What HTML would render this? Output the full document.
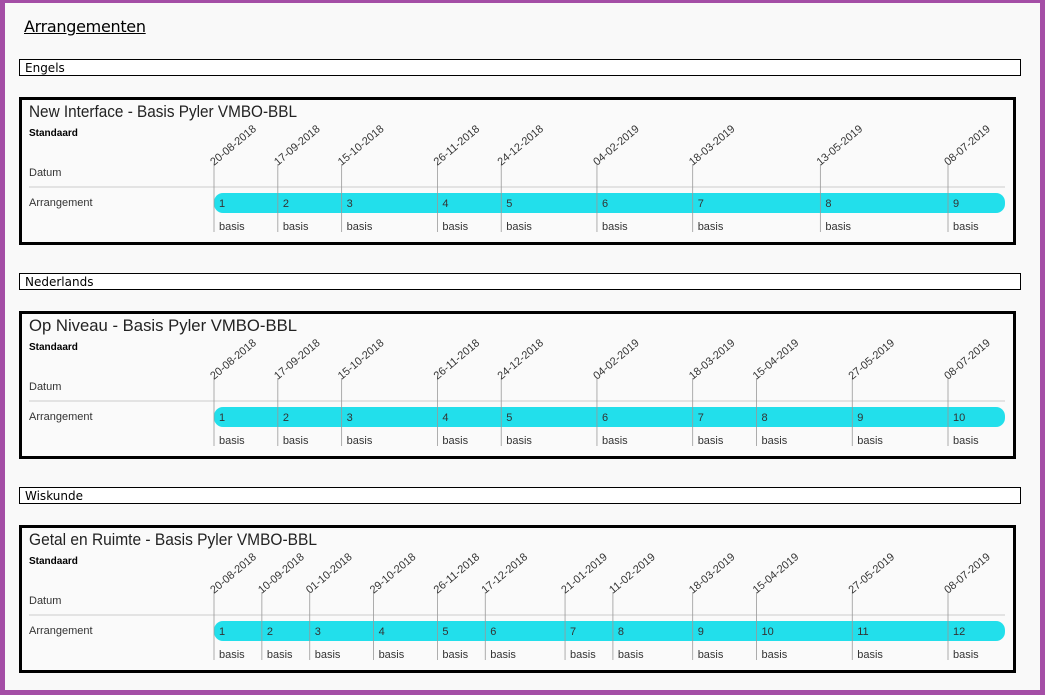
<!DOCTYPE html>
<html><head><meta charset="utf-8">
<style>
body{margin:0;width:1045px;height:695px;overflow:hidden;background:#a44ea6;font-family:"Liberation Sans",sans-serif;}
#page{position:absolute;left:5px;top:3px;width:1035px;height:687px;background:#f9f9f9;}
.h1{position:absolute;left:19px;top:14px;font-size:16px;text-decoration:underline;color:#000;font-family:"DejaVu Sans",sans-serif;letter-spacing:-0.3px;}
.sect{position:absolute;left:14px;width:1002px;height:17px;border:1px solid #000;background:#fff;font-family:"DejaVu Sans",sans-serif;font-size:12px;line-height:17px;padding-left:5px;box-sizing:border-box;}
.card{position:absolute;left:14px;width:997px;height:148px;border:3px solid #000;box-sizing:border-box;background:#fafafa;}
svg text{font-family:"Liberation Sans",sans-serif;}
</style></head><body>
<div id="page">
<div class="h1">Arrangementen</div>
<div id="root"></div>
</div>
<script>
const titles=["New Interface - Basis Pyler VMBO-BBL","Op Niveau - Basis Pyler VMBO-BBL","Getal en Ruimte - Basis  Pyler VMBO-BBL"];
const subjects=["Engels","Nederlands","Wiskunde"];
const dates1=["20-08-2018","17-09-2018","15-10-2018","26-11-2018","24-12-2018","04-02-2019","18-03-2019","13-05-2019","08-07-2019"];
const dates2=["20-08-2018","17-09-2018","15-10-2018","26-11-2018","24-12-2018","04-02-2019","18-03-2019","15-04-2019","27-05-2019","08-07-2019"];
const dates3=["20-08-2018","10-09-2018","01-10-2018","29-10-2018","26-11-2018","17-12-2018","21-01-2019","11-02-2019","18-03-2019","15-04-2019","27-05-2019","08-07-2019"];
const allDates=[dates1,dates2,dates3];
const endDate="02-08-2019";
function parse(s){const p=s.split('-');return Date.UTC(+p[2],+p[1]-1,+p[0]);}
const d0=parse("20-08-2018"),d1=parse("08-07-2019");
function xs(s){return 214+(parse(s)-d0)/(d1-d0)*734;}
const NS="http://www.w3.org/2000/svg";
const root=document.getElementById('root');
subjects.forEach((subj,k)=>{
  const off=k*214;
  const s=document.createElement('div');
  s.className='sect';s.style.top=(56+off)+'px';s.textContent=subj;
  
  
  root.appendChild(s);
  const c=document.createElement('div');
  c.className='card';c.style.top=(94+off)+'px';
  
  
  root.appendChild(c);
  const svg=document.createElementNS(NS,'svg');
  svg.setAttribute('width','991');svg.setAttribute('height','142');
  svg.style.position='absolute';svg.style.left='0';svg.style.top='0';
  c.appendChild(svg);
  const ox=22, oy=100;
  function t(x,y,str,size,attrs,name){const e=document.createElementNS(NS,'text');e.setAttribute('x',x);e.setAttribute('y',y);e.setAttribute('font-size',size);for(const a in attrs)e.setAttribute(a,attrs[a]);e.textContent=str;
    
    
    svg.appendChild(e);return e;}
  t(29-ox,117-oy,titles[k],17,{fill:'#222',textLength:k==2?288:268,lengthAdjust:'spacingAndGlyphs'},'card-title');
  t(29-ox,136-oy,"Standaard",10,{'font-weight':'bold',fill:'#000'},'standaard-label');
  t(29-ox,176-oy,"Datum",11,{fill:'#333'},'datum-label');
  t(29-ox,206-oy,"Arrangement",11,{fill:'#333'},'arrangement-label');
  const hl=document.createElementNS(NS,'line');
  hl.setAttribute('x1',29-ox);hl.setAttribute('x2',1005-ox);hl.setAttribute('y1',187-oy);hl.setAttribute('y2',187-oy);hl.setAttribute('stroke','#ccc');
  
  
  svg.appendChild(hl);
  const ds=allDates[k];
  const bx=xs(ds[0])-ox, ex=xs(endDate)-ox;
  const bar=document.createElementNS(NS,'rect');
  bar.setAttribute('x',bx);bar.setAttribute('y',193-oy);bar.setAttribute('width',ex-bx);bar.setAttribute('height',20);bar.setAttribute('rx',9);bar.setAttribute('fill','#22dfeb');
  
  
  svg.appendChild(bar);
  ds.forEach((d,i)=>{
    const x=xs(d)-ox;
    const l=document.createElementNS(NS,'line');
    l.setAttribute('x1',x);l.setAttribute('x2',x);l.setAttribute('y1',164-oy);l.setAttribute('y2',232-oy);l.setAttribute('stroke','#999');l.setAttribute('stroke-width','0.8');
    
    
    svg.appendChild(l);
    t(x,166-oy,d,11,{fill:'#333',transform:`rotate(-40 ${x} ${166-oy})`,textLength:56,lengthAdjust:'spacingAndGlyphs'},'date-label');
    t(x+5,207-oy,String(i+1),11,{fill:'#333'},'period-number');
    t(x+5,230-oy,"basis",11,{fill:'#333'},'period-level');
  });
});
</script>
</body></html>
